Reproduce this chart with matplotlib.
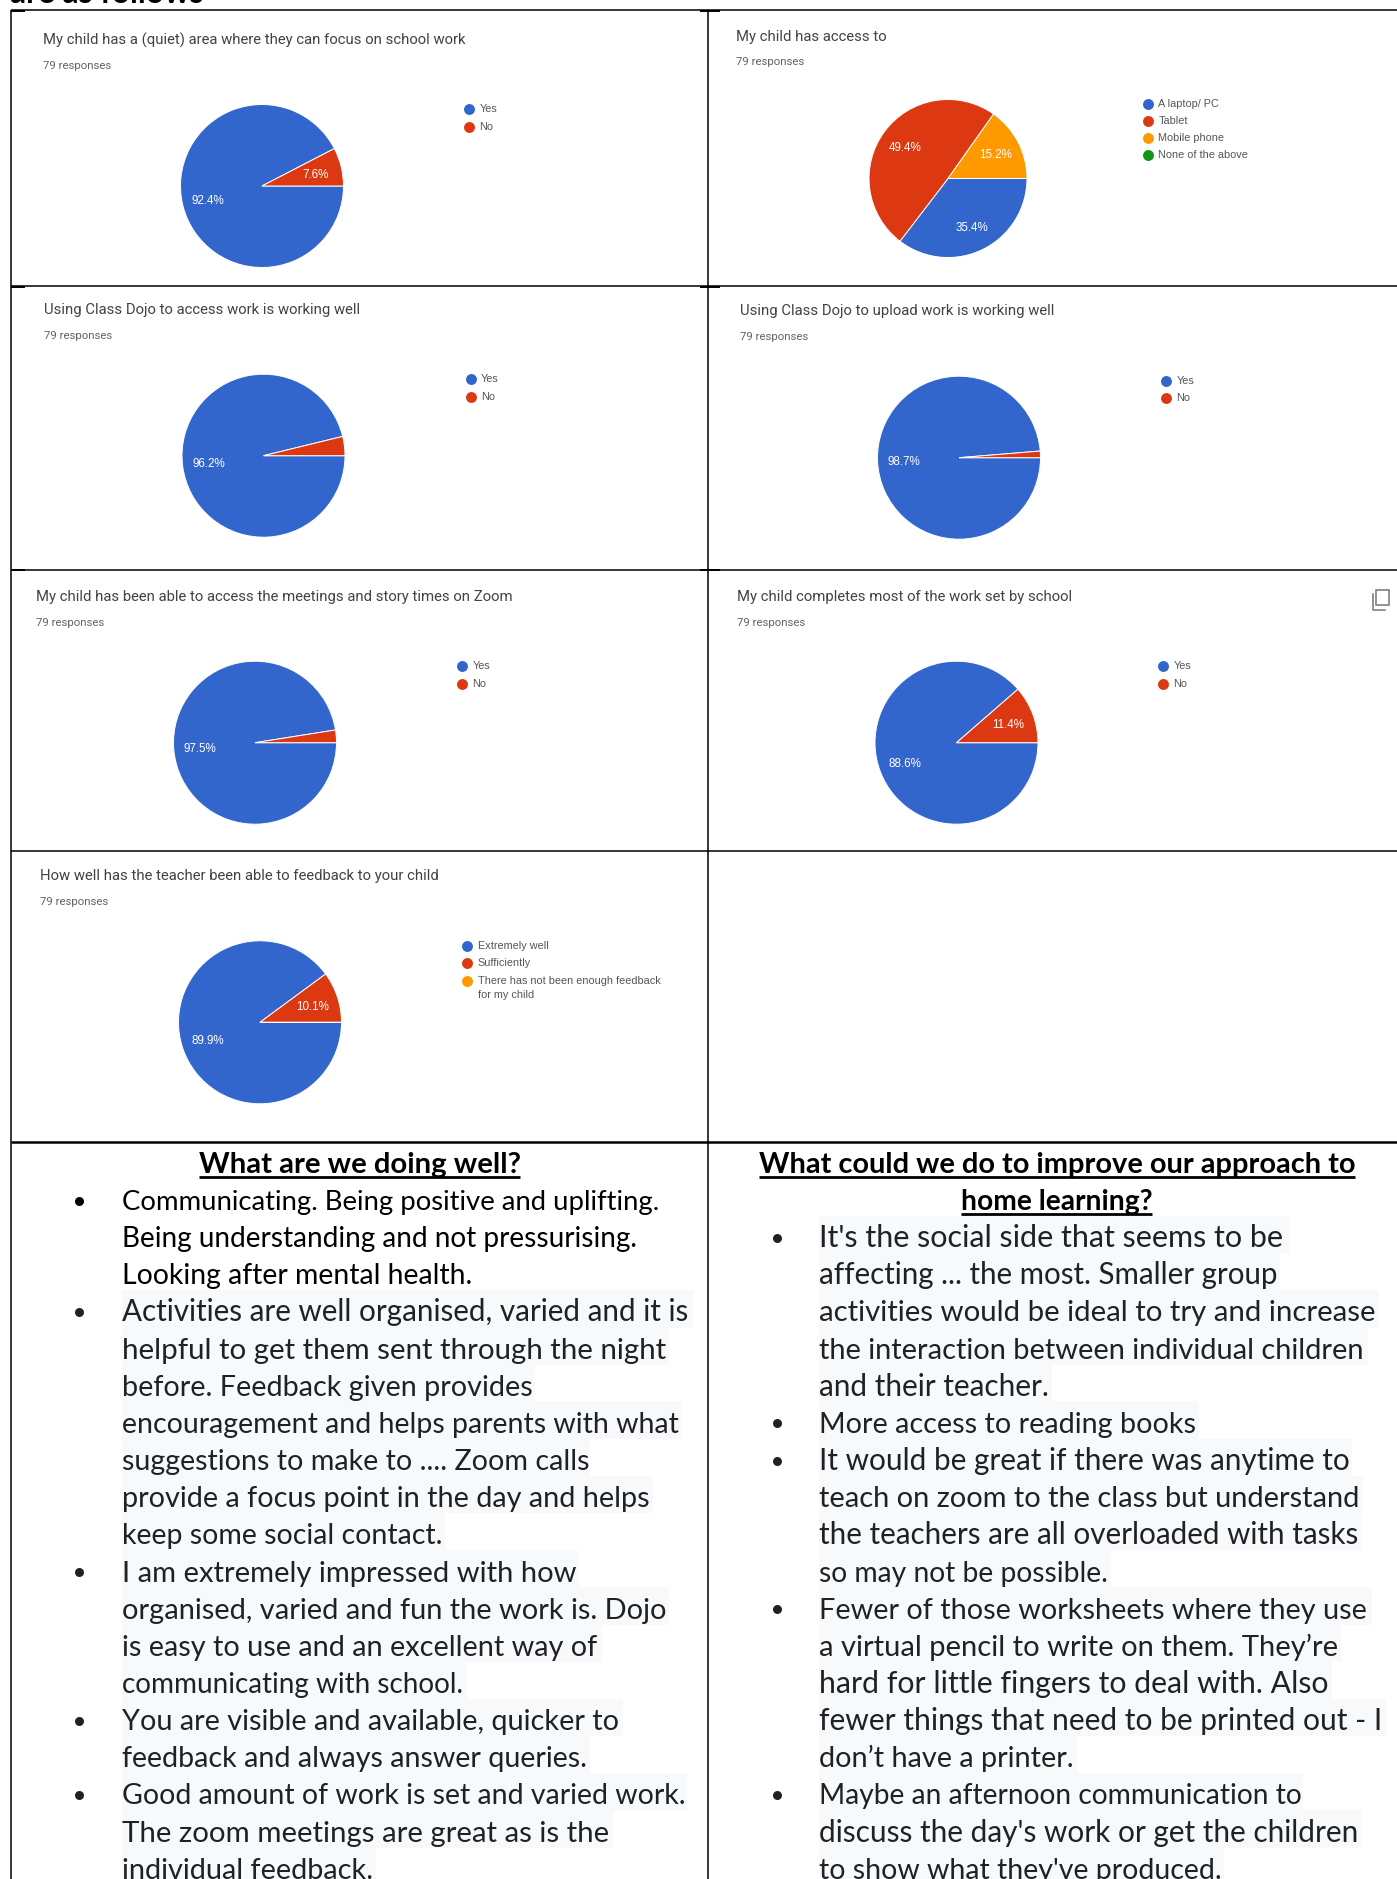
import matplotlib
matplotlib.use("Agg")
import matplotlib.pyplot as plt
from matplotlib.patches import Rectangle

W, H = 1397, 1879
BLUE, RED, ORANGE, GREEN = "#3366cc", "#dc3912", "#ff9900", "#109618"

# ---------- data ----------
titles = [
    "My child has a (quiet) area where they can focus on school work",
    "My child has access to",
    "Using Class Dojo to access work is working well",
    "Using Class Dojo to upload work is working well",
    "My child has been able to access the meetings and story times on Zoom",
    "My child completes most of the work set by school",
    "How well has the teacher been able to feedback to your child",
]
responses_label = "79 responses"
yes_no = ["Yes", "No"]
access_labels = ["A laptop/ PC", "Tablet", "Mobile phone", "None of the above"]
feedback_labels = ["Extremely well", "Sufficiently", "There has not been enough feedback\nfor my child"]

quiet_values = [92.4, 7.6]
access_values = [35.4, 49.4, 15.2, 0.0]
dojo_access_values = [96.2, 3.8]
dojo_upload_values = [98.7, 1.3]
zoom_values = [97.5, 2.5]
completes_values = [88.6, 11.4]
feedback_values = [89.9, 10.1, 0.0]

all_values = [quiet_values, access_values, dojo_access_values, dojo_upload_values,
              zoom_values, completes_values, feedback_values]
all_labels = [yes_no, access_labels, yes_no, yes_no, yes_no, yes_no, feedback_labels]

left_heading = "What are we doing well?"
right_heading = ["What could we do to improve our approach to", "home learning?"]
left_lines = [
    "Communicating. Being positive and uplifting.",
    "Being understanding and not pressurising.",
    "Looking after mental health.",
    "Activities are well organised, varied and it is",
    "helpful to get them sent through the night",
    "before. Feedback given provides",
    "encouragement and helps parents with what",
    "suggestions to make to .... Zoom calls",
    "provide a focus point in the day and helps",
    "keep some social contact.",
    "I am extremely impressed with how",
    "organised, varied and fun the work is. Dojo",
    "is easy to use and an excellent way of",
    "communicating with school.",
    "You are visible and available, quicker to",
    "feedback and always answer queries.",
    "Good amount of work is set and varied work.",
    "The zoom meetings are great as is the",
    "individual feedback.",
]
right_lines = [
    "It's the social side that seems to be",
    "affecting ... the most. Smaller group",
    "activities would be ideal to try and increase",
    "the interaction between individual children",
    "and their teacher.",
    "More access to reading books",
    "It would be great if there was anytime to",
    "teach on zoom to the class but understand",
    "the teachers are all overloaded with tasks",
    "so may not be possible.",
    "Fewer of those worksheets where they use",
    "a virtual pencil to write on them. They\u2019re",
    "hard for little fingers to deal with. Also",
    "fewer things that need to be printed out - I",
    "don\u2019t have a printer.",
    "Maybe an afternoon communication to",
    "discuss the day's work or get the children",
    "to show what they've produced.",
]

# ---------- layout (pixels) ----------
pie_xy = [(262, 186), (948, 178.5), (263.5, 455.7), (959, 457.7), (255, 742.7), (956.5, 742.7), (260, 1022.3)]
pie_r = [81.5, 79, 81.5, 81.5, 81.5, 81.5, 81.5]
title_xy = [(43, 40), (736, 37), (44, 310), (740, 311.4), (36, 596.7), (737, 596.7), (40.4, 876)]
resp_y = [66, 62, 335.5, 337.3, 622.6, 622.6, 902]
legend_xy = [(469, [109, 127]), (1148, [104, 121, 138, 155]), (470.6, [379, 397]), (1165.8, [381, 398.4]),
             (462, [666, 683.6]), (1163, [666, 683.6]), (467, [945.7, 963, 980.7])]
left_edges = [None, None, None, 693, 669, 535, 681, 590, 653, 445, 578, 669, 602, 466, 623, 590, 687, 613, 376]
right_edges = [1289, 1280, 1379, 1368, 1052, 1199, 1352, 1363, 1361, 1111, 1372, 1341, 1332, 1386, 1077, 1303, 1361, 1224]
plain_widths = {0: 537, 1: 514, 2: 350}

BODY = ["Lato", "DejaVu Sans"]

fig = plt.figure(figsize=(W / 100, H / 100), dpi=100, facecolor="white")
ov = fig.add_axes([0, 0, 1, 1], zorder=1)
ov.set_xlim(0, W); ov.set_ylim(H, 0); ov.axis("off")
renderer = fig.canvas.get_renderer()


def fit(t, target, base):
    t.set_fontsize(base)
    w = t.get_window_extent(renderer).width
    t.set_fontsize(base * target / w)
    return t


def band_top(k):
    return 1178.55 + 37.15 * k


# table rules
rows = [10, 286, 569.7, 851]
for y in rows:
    ov.plot([11, W], [y, y], color="black", lw=1.1, solid_capstyle="butt", zorder=5)
ov.plot([11, W], [1142, 1142], color="black", lw=1.8, solid_capstyle="butt", zorder=5)
for x in (11, 708):
    ov.plot([x, x], [10, H], color="black", lw=1.1, solid_capstyle="butt", zorder=5)
for y in rows[:3]:
    ov.plot([11, 25], [y + 0.5, y + 0.5], color="black", lw=1.4, solid_capstyle="butt", zorder=5)
    ov.plot([700, 720], [y + 0.5, y + 0.5], color="black", lw=1.4, solid_capstyle="butt", zorder=5)

# text cropped at the top of the page
fit(ov.text(10, 2.5, "are as follows", family=BODY, weight="bold", color="black", va="baseline", ha="left"), 193, 22)

# pies
for i, (vals, labels) in enumerate(zip(all_values, all_labels)):
    cx, cy = pie_xy[i]
    r = pie_r[i]
    ax = fig.add_axes([(cx - r) / W, 1 - (cy + r) / H, 2 * r / W, 2 * r / H], zorder=2)
    colors = [BLUE, RED, ORANGE, GREEN][:len(vals)]
    wedges, texts, autotexts = ax.pie(
        vals, colors=colors, startangle=0, counterclock=False,
        autopct=lambda p: f"{p:.1f}%" if p >= 5 else "",
        pctdistance=0.68,
        wedgeprops=dict(edgecolor="white", linewidth=0.7),
        textprops=dict(color="white", fontsize=8.4, family="Liberation Sans"),
    )
    ax.set_xlim(-1.0, 1.0); ax.set_ylim(-1.0, 1.0)
    for w_ in wedges:
        w_.set_clip_on(False)
    for a in autotexts:
        a.set_y(a.get_position()[1] - 0.02)

    tx, ty = title_xy[i]
    ov.text(tx, ty, titles[i], family="Roboto", fontsize=10.7, color="#424242", va="center", ha="left")
    ov.text(tx, resp_y[i], responses_label, family="Roboto", fontsize=8.2, color="#5f6368", va="center", ha="left")

    lx, lys = legend_xy[i]
    for j, (lab, ly) in enumerate(zip(labels, lys)):
        ov.scatter([lx], [ly], s=62, color=[BLUE, RED, ORANGE, GREEN][j], linewidths=0, zorder=6)
        parts = lab.split("\n")
        ov.text(lx + 10.5, ly, parts[0], family="Liberation Sans", fontsize=7.85, color="#555555", va="center", ha="left")
        if len(parts) > 1:
            ov.text(lx + 10.5, ly + 14.5, parts[1], family="Liberation Sans", fontsize=7.85, color="#555555", va="center", ha="left")

# copy icon
ov.add_patch(Rectangle((1376, 590), 13, 15, fill=False, ec="#757575", lw=1.1))
ov.plot([1372.5, 1372.5, 1385], [594, 609.5, 609.5], color="#757575", lw=1.1)

# headings
for txt, x0, x1, base_k, under in [(left_heading, 199, 520, -1, 1177), (right_heading[0], 759, 1355, -1, 1177),
                                   (right_heading[1], 961, 1152, 0, 1213.5)]:
    base = band_top(base_k) + 31.5
    fit(ov.text(x0, base, txt, family=BODY, weight="bold", color="black", va="baseline", ha="left"), x1 - x0, 22)
    ov.plot([x0, x1], [under, under], color="black", lw=2.0, solid_capstyle="butt", zorder=5)


def body(lines, edges, x0, bullet_x, bullets, first_k):
    for n, (line, edge) in enumerate(zip(lines, edges)):
        top = band_top(first_k + n)
        if edge is not None:
            ov.add_patch(Rectangle((x0, top), edge - x0, 37.6, fc="#f8f9fa", ec="none", zorder=0))
            color = "#202124"
            target = edge - x0 - 3
        else:
            color = "black"
            target = plain_widths[n]
        t = ov.text(x0, top + 31.5, line, family=BODY, color=color, va="baseline", ha="left", fontsize=21, zorder=3)
        fit(t, target, 21)
        if n in bullets:
            ov.scatter([bullet_x], [top + 22], s=42, color=color, linewidths=0, zorder=4)


body(left_lines, left_edges, 121.7, 79, [0, 3, 10, 14, 16], 0)
body(right_lines, right_edges, 819, 776.5, [0, 5, 6, 10, 15], 1)

fig.savefig("out.png", dpi=100, facecolor="white")
